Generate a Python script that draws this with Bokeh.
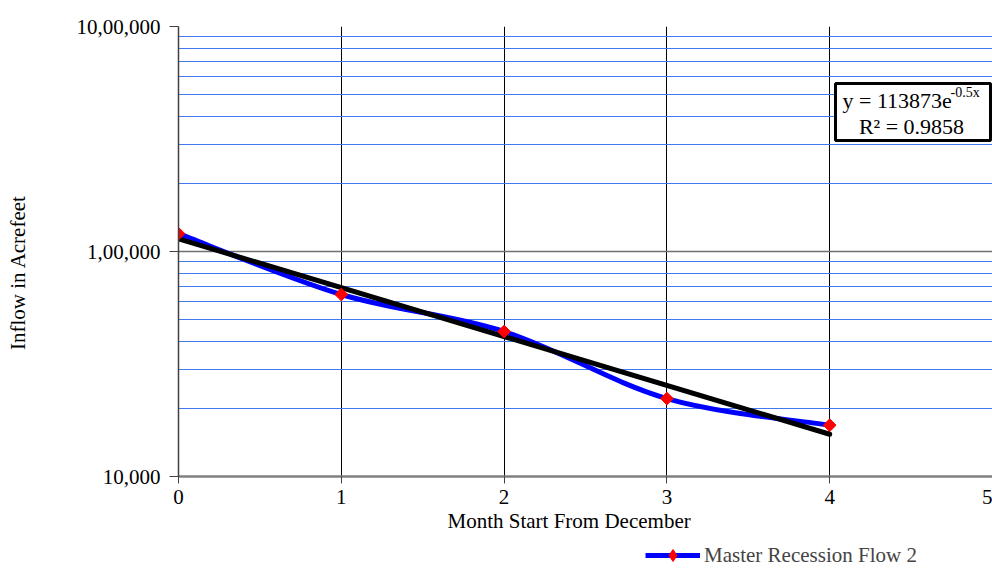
import numpy as np
from bokeh.plotting import figure
from bokeh.layouts import column
from bokeh.models import (Range1d, FixedTicker, Grid, Legend, LegendItem, Label,
                          BoxAnnotation, ColumnDataSource, Title)
from bokeh.embed import file_html
from bokeh.resources import INLINE

# ---------------- data ----------------
MONTHS = [0, 1, 2, 3, 4]
FLOW = [120000, 64400, 44100, 22200, 16900]
SERIES_NAME = "Master Recession Flow 2"
TREND_A = 113873
TREND_B = -0.5
R2 = 0.9858
X_TICKS = [0, 1, 2, 3, 4, 5]
Y_TICKS = [10000, 100000, 1000000]
Y_TICK_LABELS = ["10,000", "1,00,000", "10,00,000"]
X_TITLE = "Month Start From December"
Y_TITLE = "Inflow in Acrefeet"

FONT = "Liberation Serif"
BLUE = "#0000ff"
RED = "#ff0000"

# ---------------- layout helpers (pixel -> data) ----------------
X0_PX, X_STEP = 178.0, 162.8
Y5_PX, DEC_PX = 251.0, 225.0


def px2x(px):
    return (px - X0_PX) / X_STEP


def py2y(py):
    return 10 ** (5 + (Y5_PX - py) / DEC_PX)


p = figure(width=992, height=540, y_axis_type="log",
           x_range=Range1d(0, 5), y_range=Range1d(1e4, 1e6),
           output_backend="svg", toolbar_location=None,
           min_border_left=178, min_border_right=0, min_border_top=26,
           min_border_bottom=64)
p.outline_line_color = None

# axes
p.xaxis.ticker = FixedTicker(ticks=X_TICKS)
p.yaxis.ticker = FixedTicker(ticks=Y_TICKS)
p.yaxis.major_label_overrides = {t: l for t, l in zip(Y_TICKS, Y_TICK_LABELS)}
# trailing no-break spaces push the (centred) title a little lower, as in the reference
p.yaxis.axis_label = Y_TITLE + "\u00a0" * 8
for ax in (p.xaxis, p.yaxis):
    ax.major_label_text_font = FONT
    ax.major_label_text_font_size = "21px"
    ax.major_label_text_color = "black"
    ax.axis_label_text_font = FONT
    ax.axis_label_text_font_size = "21px"
    ax.axis_label_text_font_style = "normal"
    ax.axis_label_text_color = "black"
    ax.minor_tick_line_color = None
    ax.major_tick_in = 0
p.xaxis.major_tick_out = 7
p.xaxis.major_tick_line_color = "#404040"
p.xaxis.axis_line_color = "#808080"
p.xaxis.axis_line_width = 2.5
p.xaxis.major_label_standoff = 6
p.yaxis.major_tick_out = 9
p.yaxis.major_tick_line_color = "#404040"
p.yaxis.axis_line_color = "#404040"
p.yaxis.axis_line_width = 1.5
p.yaxis.major_label_standoff = 9
p.yaxis.axis_label_standoff = 44

# x title, left-aligned with an offset so it sits where the reference has it
p.add_layout(Title(text=X_TITLE, align="left", offset=269, standoff=0,
                   text_font=FONT, text_font_size="21px",
                   text_font_style="normal", text_color="black"), "below")

# grids
p.xgrid.grid_line_color = "black"
p.xgrid.grid_line_width = 1
p.ygrid.ticker = FixedTicker(ticks=[Y_TICKS[1]])
p.ygrid.grid_line_color = "#707070"
p.ygrid.grid_line_width = 1.5
minor = [m * d for d in (1e4, 1e5) for m in range(2, 10)]
p.add_layout(Grid(dimension=1, ticker=FixedTicker(ticks=minor),
                  grid_line_color="#4078f0", grid_line_width=1))

# smoothed series (Bezier through the data points, in log space)
lx = np.array(MONTHS, dtype=float)
ly = np.log10(np.array(FLOW, dtype=float))
n = len(lx)
seg = dict(x0=[], y0=[], x1=[], y1=[], cx0=[], cy0=[], cx1=[], cy1=[])
for i in range(n - 1):
    ip, inx = max(i - 1, 0), min(i + 2, n - 1)
    seg["x0"].append(lx[i]); seg["y0"].append(10 ** ly[i])
    seg["x1"].append(lx[i + 1]); seg["y1"].append(10 ** ly[i + 1])
    seg["cx0"].append(lx[i] + (lx[i + 1] - lx[ip]) / 6)
    seg["cy0"].append(10 ** (ly[i] + (ly[i + 1] - ly[ip]) / 6))
    seg["cx1"].append(lx[i + 1] - (lx[inx] - lx[i]) / 6)
    seg["cy1"].append(10 ** (ly[i + 1] - (ly[inx] - ly[i]) / 6))
p.bezier(x0="x0", y0="y0", x1="x1", y1="y1", cx0="cx0", cy0="cy0",
         cx1="cx1", cy1="cy1", source=ColumnDataSource(seg),
         line_color=BLUE, line_width=5, line_cap="round")

# trendline
tx = np.array([MONTHS[0], MONTHS[-1]], dtype=float)
ty = TREND_A * np.exp(TREND_B * tx)
p.line(tx, ty, line_color="black", line_width=5, line_cap="round")

# markers
p.scatter(MONTHS, FLOW, marker="square", angle=np.pi / 4, size=9,
          fill_color=RED, line_color=RED)

# equation box
p.add_layout(BoxAnnotation(left=px2x(835), right=px2x(990), top=py2y(83),
                           bottom=py2y(140), fill_color="white", fill_alpha=1,
                           line_color="black", line_alpha=1, line_width=3))
p.add_layout(Label(x=px2x(842), y=py2y(100), text="y = %de" % TREND_A,
                   text_font=FONT, text_font_size="22px", text_color="black",
                   text_baseline="alphabetic"))
p.add_layout(Label(x=px2x(950), y=py2y(92), text="%gx" % TREND_B,
                   text_font=FONT, text_font_size="14px", text_color="black",
                   text_baseline="alphabetic"))
p.add_layout(Label(x=px2x(911), y=py2y(126), text="R² = %.4f" % R2,
                   text_font=FONT, text_font_size="22px", text_color="black",
                   text_align="center", text_baseline="alphabetic"))

# legend strip below the chart (its renderers lie outside its own ranges)
q = figure(width=992, height=28, x_range=Range1d(0, 1), y_range=Range1d(0, 1),
           output_backend="svg", toolbar_location=None,
           x_axis_location=None, y_axis_location=None,
           min_border=0)
q.outline_line_color = None
q.grid.visible = False
leg_line = q.line(x=MONTHS, y=FLOW, line_color=BLUE, line_width=5)
leg_mark = q.scatter(x=MONTHS, y=FLOW, marker="diamond", size=15,
                     fill_color=RED, line_color=RED)
q.add_layout(Legend(items=[LegendItem(label=SERIES_NAME, renderers=[leg_line, leg_mark])],
                    location=(467, -2), orientation="horizontal",
                    label_text_font=FONT, label_text_font_size="21px",
                    glyph_width=55, glyph_height=30, label_standoff=4,
                    padding=0, margin=0, spacing=0,
                    border_line_color=None, background_fill_alpha=0), "center")

open("out.html", "w").write(file_html(column(p, q, spacing=0), INLINE))
